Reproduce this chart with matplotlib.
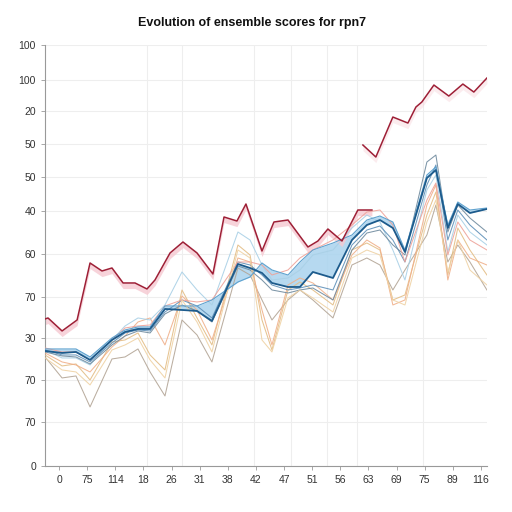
import matplotlib
matplotlib.use("Agg")
import matplotlib.pyplot as plt

plt.rcParams['font.family'] = ['Liberation Sans', 'DejaVu Sans']

title = "Evolution of ensemble scores for rpn7"

# shared x positions of the ensemble members
x = [0, 1.21, 2.2, 3.2, 4.76, 5.69, 6.61, 7.47, 8.53, 9.74, 10.81, 11.87, 13.72, 14.58,
     15.43, 16.14, 17.28, 18.13, 19.05, 20.48, 21.83, 22.89, 23.82, 24.74, 25.6, 27.16,
     27.8, 28.65, 29.36, 30.22, 31.43]

# main (dark blue) series and the edge of its shaded band
main = [28.75, 28.25, 28.5, 26.5, 31.5, 33.5, 34.25, 34.25, 39.25, 39, 38.75, 36.25, 50.5,
        49.5, 48.25, 45.75, 44.75, 44.75, 48.5, 47, 56.5, 60.25, 61.5, 59.5, 53.5, 72, 74,
        59.5, 65.5, 63.25, 64.25]
band = [29.25, 29.25, 29.25, 27.25, 32, 34, 34.75, 34.75, 40, 40, 40, 41.5, 46, 47.25,
        50.75, 49, 47.75, 51, 54, 55.75, 57.75, 61.5, 62.5, 61, 54, 72.75, 74.75, 60.25,
        66, 64, 64.5]

# thin members
members = {
    "m1": [27.25, 22, 22.5, 14.75, 26.75, 27.25, 29.25, 23.5, 17.5, 36.5, 32.75, 26, 49.5,
           47.75, 41.5, 36.5, 41.5, 44, 41.5, 37, 50.25, 52, 50.25, 44, 49, 57.75, 65.25,
           51, 55.25, 51, 44],
    "m2": [27.75, 25, 25.5, 21.5, 31, 31.5, 33.25, 27.75, 24, 44, 37, 30.25, 55.25, 52.75,
           36.5, 29, 44, 46, 44, 40.25, 54, 55.75, 54, 41.5, 42.75, 62.75, 68.5, 47.75,
           59.5, 54, 47.75],
    "m3": [28.25, 26, 25.25, 23.5, 29.75, 32.5, 36, 37, 30.25, 42.5, 39, 31.5, 52, 51, 39,
           30.25, 45.25, 47, 45.75, 41.5, 52.75, 56.5, 54.5, 40.25, 41.5, 65.25, 70.25,
           46.5, 56.5, 52, 50.25],
    "m4": [29, 27, 27, 25.25, 31.5, 35, 37, 36.5, 40.25, 48.5, 44, 40.25, 58.5, 56.5, 50.25,
           46.5, 47, 49, 52.75, 54, 59.5, 62.75, 61, 54, 46.5, 69, 72.75, 53.5, 62.75, 58.5,
           55.25],
    "m5": [29, 27.75, 27.75, 26, 30.75, 33.25, 34, 33.75, 38.5, 41.5, 40, 37, 51, 50.25,
           47.75, 45.25, 44, 44.5, 45.25, 44, 55.25, 59, 60, 56.5, 51, 70.25, 75.25, 56.5,
           64, 60.25, 56.5],
    "m6": [28.5, 27.5, 27.25, 25.5, 30.25, 32.5, 33.75, 33.25, 38, 40.25, 38.75, 36, 50, 49,
           46.5, 44, 43.25, 44, 44.5, 41.5, 54, 58.25, 59, 55.25, 52.75, 76, 77.75, 58.5,
           65.25, 62, 58.5],
    "m7": [29.5, 28.5, 28.5, 26.5, 31.5, 34.5, 35, 35.25, 40, 41.5, 41, 41.5, 51, 51, 50.25,
           47.75, 49, 52, 54, 56.5, 60.25, 63.5, 64, 60.25, 51, 66.5, 70.75, 52.75, 61,
           56.5, 54],
    "m8": [27, 24, 23.5, 20.25, 29, 30.25, 32, 26.5, 22, 41.5, 36, 28.5, 54, 52, 31.5, 28.5,
           42, 44, 42, 38.5, 52, 54, 52.75, 41.5, 40.25, 61, 66.5, 48.5, 56.5, 49, 45.25],
}
member_colors = {
    "m1": "#b3a596", "m2": "#e3bd85", "m3": "#f0b08a", "m4": "#a9d0e6",
    "m5": "#5d8fb8", "m6": "#6f8a9e", "m7": "#eea39a", "m8": "#efd2a4",
}

# observed (red) series, two pieces
red1_x = [0, 0.21, 1.21, 2.28, 3.2, 4.05, 4.76, 5.55, 6.4, 7.25, 7.82, 8.89, 9.81, 10.81,
          11.94, 12.73, 13.65, 14.29, 15.43, 16.28, 17.28, 18.7, 19.41, 20.12, 21.12, 22.25,
          23.25]
red1_y = [36.75, 37, 33.75, 36.5, 50.75, 48.75, 49.5, 45.75, 45.75, 44.25, 46.5, 53.25, 56,
          53.25, 48, 62.25, 61.25, 65.5, 53.75, 61, 61.5, 54.75, 56.25, 59.25, 56.25, 64, 64]
red2_x = [22.61, 23.53, 24.74, 25.81, 26.38, 26.8, 27.66, 28.72, 29.72, 30.5, 31.43]
red2_y = [80.25, 77.25, 87.25, 85.75, 89.75, 91, 95.25, 92.5, 95.5, 93.5, 97]

ytick_pos = [0, 11, 21.5, 32, 42.25, 53, 63.75, 72.25, 80.5, 88.75, 96.5, 105.25]
ytick_lab = ["0", "70", "70", "30", "70", "60", "40", "50", "50", "20", "100", "100"]
xtick_pos = [1, 3, 5, 7, 9, 11, 13, 15, 17, 19, 21, 23, 25, 27, 29, 31]
xtick_lab = ["0", "75", "114", "18", "26", "31", "38", "42", "47", "51", "56", "63",
             "69", "75", "89", "116"]
xgrid_pos = [3, 7.25, 9.74, 14.86, 17.49, 20.05, 22.18, 26.87]

fig = plt.figure(figsize=(5.12, 5.12), dpi=100)
ax = fig.add_axes([0.088, 0.09, 0.863, 0.822])

ax.fill_between(x, main, band, color="#a9d3ee", alpha=0.85, lw=0, zorder=2)
for k, ys in members.items():
    ax.plot(x, ys, color=member_colors[k], lw=0.75, alpha=0.9, zorder=3)
ax.plot(x, band, color="#5fa2cf", lw=0.8, zorder=4)
ax.plot(x, main, color="#1d5b8c", lw=1.3, zorder=5)

# pink shade under the red line, faint on the late piece
for rx, ry, a in ((red1_x, red1_y, 0.8), (red2_x, red2_y, 0.35)):
    ax.fill_between(rx, ry, [v - 1.4 for v in ry], color="#f6c9d1", alpha=a, lw=0, zorder=2)
    ax.plot(rx, ry, color="#9e1f36", lw=1.1, zorder=6)

ax.set_xlim(0, 31.43)
ax.set_ylim(0, 105.25)
ax.set_yticks(ytick_pos)
ax.set_yticklabels(ytick_lab)
ax.set_xticks(xtick_pos)
ax.set_xticklabels(xtick_lab)
ax.set_xticks(xgrid_pos, minor=True)
ax.tick_params(axis="both", labelsize=7.5, length=3, width=0.6,
               colors="#999999", labelcolor="#333333")
ax.tick_params(axis="x", which="minor", length=0)
ax.grid(axis="y", color="#eeeeee", lw=0.8)
ax.grid(axis="x", which="minor", color="#eeeeee", lw=0.8)
ax.set_axisbelow(True)
for s in ("top", "right"):
    ax.spines[s].set_visible(False)
for s in ("left", "bottom"):
    ax.spines[s].set_color("#999999")
    ax.spines[s].set_linewidth(0.8)

fig.text(0.493, 0.955, title, ha="center", va="center", fontsize=9, fontweight="bold",
         color="#111111")

fig.savefig("out.png", dpi=100, facecolor="white")
